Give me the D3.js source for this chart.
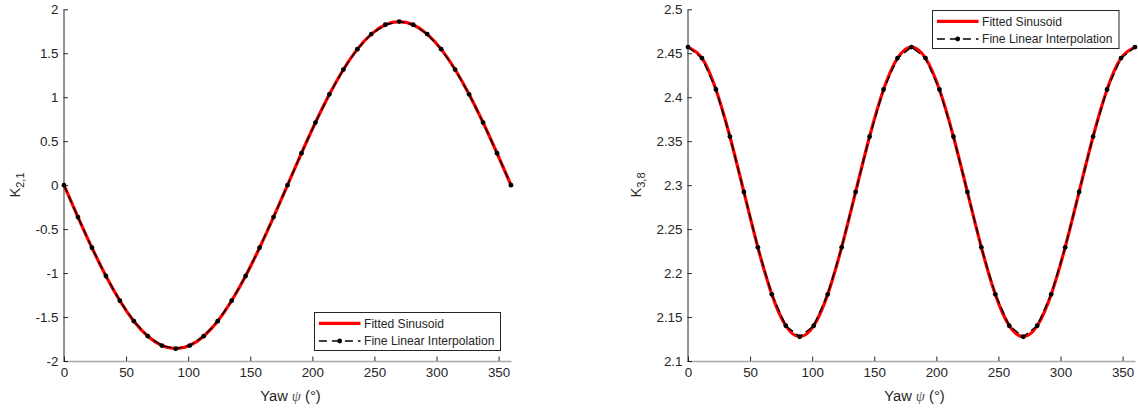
<!DOCTYPE html>
<html>
<head>
<meta charset="utf-8">
<script src="https://cdn.jsdelivr.net/npm/d3@7/dist/d3.min.js"></script>
<style>
  html, body { margin: 0; padding: 0; background: #fff; }
  svg { display: block; }
  text { font-family: "Liberation Sans", Arial, Helvetica, sans-serif; fill: #262626; }
</style>
</head>
<body>
<svg id="chart" width="1138" height="410"></svg>
<script>
// ---- Data ----
const yaw = [0, 11.25, 22.5, 33.75, 45, 56.25, 67.5, 78.75, 90, 101.25, 112.5, 123.75, 135, 146.25, 157.5, 168.75,
             180, 191.25, 202.5, 213.75, 225, 236.25, 247.5, 258.75, 270, 281.25, 292.5, 303.75, 315, 326.25, 337.5, 348.75, 360];
const k21 = [0, -0.363, -0.712, -1.033, -1.315, -1.547, -1.718, -1.824, -1.86, -1.824, -1.718, -1.547, -1.315, -1.033, -0.712, -0.363,
             0, 0.363, 0.712, 1.033, 1.315, 1.547, 1.718, 1.824, 1.86, 1.824, 1.718, 1.547, 1.315, 1.033, 0.712, 0.363, 0];
const k38 = [2.457, 2.4445, 2.4088, 2.3553, 2.2923, 2.2293, 2.1758, 2.1401, 2.1276, 2.1401, 2.1758, 2.2293, 2.2923, 2.3553, 2.4088, 2.4445,
             2.457, 2.4445, 2.4088, 2.3553, 2.2923, 2.2293, 2.1758, 2.1401, 2.1276, 2.1401, 2.1758, 2.2293, 2.2923, 2.3553, 2.4088, 2.4445, 2.457];
const xTicks = [0, 50, 100, 150, 200, 250, 300, 350];
const yTicksLeft = [-2, -1.5, -1, -0.5, 0, 0.5, 1, 1.5, 2];
const yTicksRight = [2.1, 2.15, 2.2, 2.25, 2.3, 2.35, 2.4, 2.45, 2.5];
const legendLabels = ["Fitted Sinusoid", "Fine Linear Interpolation"];

const svg = d3.select("#chart");

function panel(cfg) {
  const g = svg.append("g");
  const x = d3.scaleLinear().domain([0, 360]).range([cfg.x0, cfg.x1]);
  const y = d3.scaleLinear().domain(cfg.yDomain).range([361, 9.3]);
  const tickFont = "13.4px";

  // x axis (inward ticks)
  const xAxis = d3.axisBottom(x).tickValues(xTicks).tickSizeInner(-4.5).tickSizeOuter(0).tickPadding(12);
  const gx = g.append("g").attr("transform", "translate(0,361)").call(xAxis);
  gx.select(".domain").attr("stroke", "#a8a8a8").attr("stroke-width", 1.6);
  gx.selectAll(".tick line").attr("stroke", "#262626");
  gx.selectAll(".tick text").attr("fill", "#262626").style("font-size", tickFont)
    .style("font-family", "'Liberation Sans', Arial, sans-serif").attr("dy", "0.71em").attr("y", 6);

  // y axis (inward ticks)
  const yAxis = d3.axisLeft(y).tickValues(cfg.yTicks).tickSizeInner(-4.5).tickSizeOuter(0).tickPadding(5)
    .tickFormat(d => String(+d.toFixed(2)));
  const gy = g.append("g").attr("transform", `translate(${cfg.x0 - 0.5},0)`).call(yAxis);
  gy.select(".domain").attr("stroke", "#262626").attr("stroke-width", 1);
  gy.selectAll(".tick line").attr("stroke", "#262626");
  gy.selectAll(".tick text").attr("fill", "#262626").style("font-size", tickFont)
    .style("font-family", "'Liberation Sans', Arial, sans-serif").attr("x", -5);

  // fitted sinusoid (smooth red)
  const pts = yaw.map((d, i) => [d, cfg.values[i]]);
  const smooth = d3.line().x(d => x(d[0])).y(d => y(d[1])).curve(d3.curveNatural);
  g.append("path").attr("d", smooth(pts)).attr("fill", "none").attr("stroke", "#ff0000").attr("stroke-width", 3.2);

  // fine linear interpolation (black dashed + dots)
  const lin = d3.line().x(d => x(d[0])).y(d => y(d[1]));
  g.append("path").attr("d", lin(pts)).attr("fill", "none").attr("stroke", "#000")
    .attr("stroke-width", 1.4).attr("stroke-dasharray", "8,4");
  g.selectAll("circle.m").data(pts).enter().append("circle").attr("class", "m")
    .attr("cx", d => x(d[0])).attr("cy", d => y(d[1])).attr("r", 2.4).attr("fill", "#000");

  // x label
  const xl = g.append("text").attr("x", (cfg.x0 + cfg.x1) / 2 + 3).attr("y", 400.5)
    .attr("text-anchor", "middle").style("font-size", "14.7px");
  xl.append("tspan").text("Yaw ");
  xl.append("tspan").text("ψ").style("font-family", "'Liberation Serif', 'DejaVu Serif', serif").style("font-style", "italic").style("fill", "#555");
  xl.append("tspan").text(" (°)");

  // y label
  const yl = g.append("text").attr("transform", `translate(${cfg.yLabelX},185) rotate(-90)`)
    .attr("text-anchor", "middle").style("font-size", "14.7px");
  yl.append("tspan").text("K");
  yl.append("tspan").text(cfg.sub).attr("dy", 4).style("font-size", "11px");

  // legend
  const L = cfg.legend;
  const lg = g.append("g");
  lg.append("rect").attr("x", L.x).attr("y", L.y).attr("width", L.w).attr("height", 38)
    .attr("fill", "#fff").attr("stroke", "#262626").attr("stroke-width", 1);
  const r1 = L.y + 10.8, r2 = L.y + 28.5;
  lg.append("line").attr("x1", L.x + 4.4).attr("x2", L.x + 46).attr("y1", r1).attr("y2", r1)
    .attr("stroke", "#ff0000").attr("stroke-width", 3.2);
  lg.append("line").attr("x1", L.x + 4.4).attr("x2", L.x + 46).attr("y1", r2).attr("y2", r2)
    .attr("stroke", "#000").attr("stroke-width", 1.4).attr("stroke-dasharray", "8,5");
  lg.append("circle").attr("cx", L.x + 25.2).attr("cy", r2).attr("r", 2.4).attr("fill", "#000");
  lg.selectAll("text.lt").data(legendLabels).enter().append("text").attr("class", "lt")
    .attr("x", L.x + 49.5).attr("y", (d, i) => (i === 0 ? r1 : r2) + 4.3)
    .style("font-size", "12.1px").text(d => d);
}

panel({ x0: 64, x1: 511, yDomain: [-2, 2], yTicks: yTicksLeft, values: k21, sub: "2,1", yLabelX: 20,
        legend: { x: 314.5, y: 312.5, w: 186 } });
panel({ x0: 688, x1: 1135, yDomain: [2.1, 2.5], yTicks: yTicksRight, values: k38, sub: "3,8", yLabelX: 641,
        legend: { x: 932.5, y: 10.5, w: 186.5 } });
</script>
</body>
</html>
